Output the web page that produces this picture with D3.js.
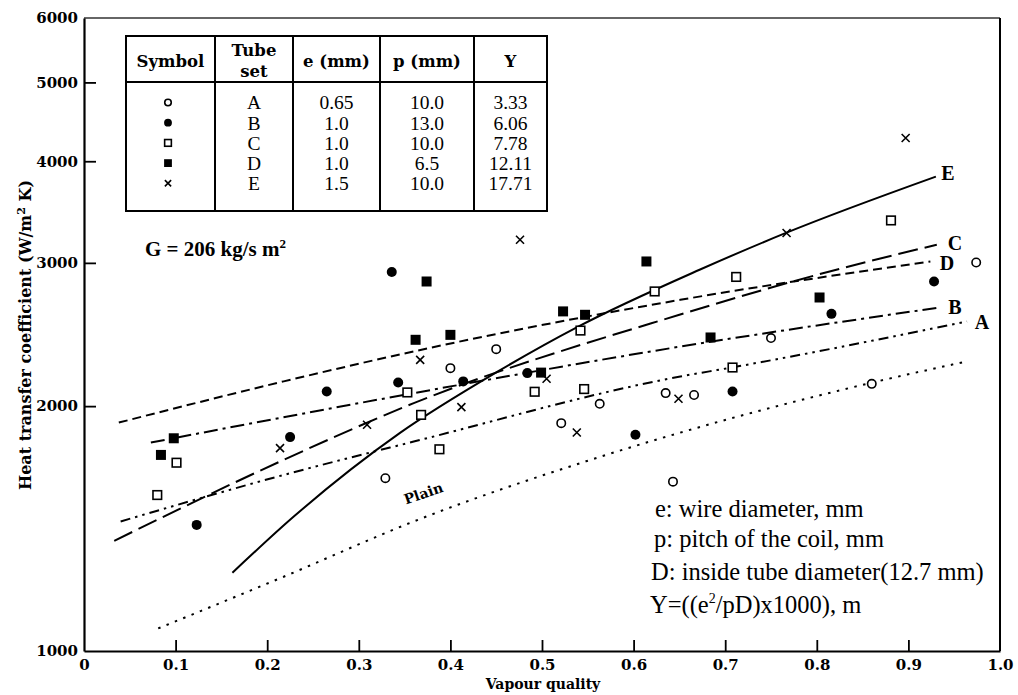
<!DOCTYPE html>
<html lang="en">
  <head>
    <meta charset="UTF-8" />
    <title>Heat transfer coefficient vs vapour quality</title>
    <script src="https://d3js.org/d3.v7.min.js"></script>
    <style>
      body {
        margin: 0;
        background-color: #fff;
      }
      svg text {
        fill: #000;
      }
      .serif {
        font-family: "Liberation Serif", "Times New Roman", serif;
      }
      .bold {
        font-family: "DejaVu Serif", serif;
        font-weight: bold;
      }
    </style>
  </head>
  <body>
    <svg id="chart" width="1018" height="695"></svg>
    <script>
      // tube sets A..E
      const setA = [
        [0.329, 1631], [0.4, 2227], [0.45, 2350], [0.521, 1906], [0.563, 2013],
        [0.635, 2075], [0.643, 1615], [0.666, 2064], [0.75, 2425], [0.86, 2130],
        [0.974, 3003]
      ];
      const setB = [
        [0.123, 1429], [0.225, 1832], [0.265, 2084], [0.336, 2923], [0.343, 2138],
        [0.414, 2145], [0.484, 2196], [0.602, 1844], [0.708, 2084], [0.816, 2597],
        [0.928, 2846]
      ];
      const setC = [
        [0.08, 1555], [0.101, 1704], [0.353, 2079], [0.368, 1951], [0.388, 1770],
        [0.492, 2083], [0.542, 2477], [0.546, 2099], [0.623, 2767], [0.708, 2231],
        [0.712, 2883], [0.881, 3383]
      ];
      const setD = [
        [0.084, 1742], [0.098, 1826], [0.362, 2413], [0.374, 2846], [0.4, 2447],
        [0.499, 2199], [0.523, 2615], [0.547, 2590], [0.614, 3012], [0.684, 2429],
        [0.803, 2720]
      ];
      const setE = [
        [0.214, 1776], [0.309, 1897], [0.367, 2280], [0.412, 1994], [0.476, 3203],
        [0.505, 2161], [0.538, 1856], [0.649, 2042], [0.767, 3265], [0.897, 4272]
      ];

      // fitted curves
      const curveE = [[0.162, 1248], [0.229, 1463], [0.345, 1854], [0.45, 2200], [0.539, 2503], [0.672, 2942], [0.767, 3268], [0.93, 3830]];
      const curveC = [[0.033, 1366], [0.218, 1718], [0.36, 2017], [0.65, 2590], [0.814, 2928], [0.931, 3158]];
      const curveD = [[0.038, 1909], [0.218, 2145], [0.378, 2359], [0.651, 2702], [0.924, 3012]];
      const curveB = [[0.073, 1804], [0.36, 2075], [0.651, 2367], [0.932, 2642]];
      const curveA = [[0.04, 1443], [0.218, 1646], [0.36, 1809], [0.651, 2175], [0.705, 2229], [0.964, 2541]];
      const curvePlain = [[0.081, 1066], [0.218, 1234], [0.36, 1443], [0.563, 1732], [0.86, 2137], [0.964, 2270]];

      const xTicks = [0, 0.1, 0.2, 0.3, 0.4, 0.5, 0.6, 0.7, 0.8, 0.9, 1.0];
      const yTicks = [1000, 2000, 3000, 4000, 5000, 6000];

      const tableHead = ["Symbol", "Tube set", "e (mm)", "p (mm)", "Y"];
      const tubeSets = ["A", "B", "C", "D", "E"];
      const eValues = ["0.65", "1.0", "1.0", "1.0", "1.5"];
      const pValues = ["10.0", "13.0", "10.0", "6.5", "10.0"];
      const yValues = ["3.33", "6.06", "7.78", "12.11", "17.71"];

      const svg = d3.select("#chart");
      const x = d3.scaleLinear().domain([0, 1]).range([84, 1000]);
      const y = d3.scaleLog().domain([1000, 6000]).range([651, 18]);

      // frame
      svg.append("line").attr("x1", 84).attr("x2", 1000).attr("y1", 18).attr("y2", 18)
        .attr("stroke", "#333").attr("stroke-width", 1.6);
      svg.append("line").attr("x1", 1000).attr("x2", 1000).attr("y1", 18).attr("y2", 651)
        .attr("stroke", "#000").attr("stroke-width", 2);

      const xAxis = d3.axisBottom(x).tickValues(xTicks).tickSize(0).tickPadding(8)
        .tickFormat((d) => (d === 0 ? "0" : d3.format(".1f")(d)));
      const gx = svg.append("g").attr("transform", "translate(0,651)").call(xAxis);
      gx.select(".domain").attr("stroke-width", 2.2);
      gx.selectAll("text").attr("class", "bold").attr("font-size", 15).attr("font-family", null);
      gx.selectAll(".tick").filter((d) => d > 0 && d < 1).append("line")
        .attr("y1", 0).attr("y2", -11).attr("stroke", "#000").attr("stroke-width", 1.8);

      const yAxis = d3.axisLeft(y).tickValues(yTicks).tickSize(0).tickPadding(6)
        .tickFormat(d3.format("d"));
      const gy = svg.append("g").attr("transform", "translate(84,0)").call(yAxis);
      gy.select(".domain").attr("stroke-width", 2.2);
      gy.selectAll("text").attr("class", "bold").attr("font-size", 15).attr("font-family", null);
      gy.selectAll(".tick").filter((d) => d > 1000 && d < 6000).append("line")
        .attr("x1", 0).attr("x2", 12).attr("stroke", "#000").attr("stroke-width", 1.8);

      // axis titles
      svg.append("text").attr("class", "bold").attr("font-size", 14)
        .attr("x", 543).attr("y", 689).attr("text-anchor", "middle").text("Vapour quality");
      const yt = svg.append("text").attr("class", "bold").attr("font-size", 16)
        .attr("text-anchor", "middle")
        .attr("transform", "translate(31,335) rotate(-90)");
      yt.append("tspan").text("Heat transfer coefficient (W/m");
      yt.append("tspan").attr("font-size", 11).attr("dy", -6).text("2");
      yt.append("tspan").attr("dy", 6).text(" K)");

      // curves
      const line = d3.line().x((d) => x(d[0])).y((d) => y(d[1])).curve(d3.curveMonotoneX);
      const curves = [
        { data: curveE, dash: null },
        { data: curveC, dash: "20 7" },
        { data: curveD, dash: "9 5" },
        { data: curveB, dash: "14 5 3 5" },
        { data: curveA, dash: "10 5 2.5 5 2.5 5" },
        { data: curvePlain, dash: "2.5 6.5" }
      ];
      svg.selectAll(".curve").data(curves).enter().append("path")
        .attr("class", "curve")
        .attr("d", (d) => line(d.data))
        .attr("fill", "none")
        .attr("stroke", "#000")
        .attr("stroke-width", 2)
        .attr("stroke-dasharray", (d) => d.dash);

      // curve labels
      const curveLabels = [["E", 948, 173], ["C", 955, 243], ["D", 947, 263], ["B", 955, 307], ["A", 982, 322]];
      svg.selectAll(".clabel").data(curveLabels).enter().append("text")
        .attr("class", "serif clabel").attr("font-size", 20).attr("font-weight", "bold")
        .attr("x", (d) => d[1]).attr("y", (d) => d[2]).attr("dy", "0.35em")
        .attr("text-anchor", "middle").text((d) => d[0]);
      svg.append("text").attr("class", "bold").attr("font-size", 14)
        .attr("transform", "translate(425,498) rotate(-19)")
        .attr("text-anchor", "middle").text("Plain");

      // markers
      function drawMarker(g, type, s) {
        if (type === "A") {
          g.append("circle").attr("r", 4.2 * s).attr("fill", "#fff").attr("stroke", "#000").attr("stroke-width", 1.6);
        } else if (type === "B") {
          g.append("circle").attr("r", 5 * s).attr("fill", "#000");
        } else if (type === "C") {
          g.append("rect").attr("x", -4.3 * s).attr("y", -4.3 * s).attr("width", 8.6 * s).attr("height", 8.6 * s)
            .attr("fill", "#fff").attr("stroke", "#000").attr("stroke-width", 1.6);
        } else if (type === "D") {
          g.append("rect").attr("x", -5 * s).attr("y", -5 * s).attr("width", 10 * s).attr("height", 10 * s).attr("fill", "#000");
        } else {
          const r = 4 * s;
          g.append("path").attr("d", `M${-r},${-r}L${r},${r}M${-r},${r}L${r},${-r}`)
            .attr("stroke", "#000").attr("stroke-width", 1.6);
        }
      }

      const sets = { A: setA, B: setB, C: setC, D: setD, E: setE };
      Object.keys(sets).forEach((k) => {
        sets[k].forEach((p) => {
          const g = svg.append("g").attr("transform", `translate(${x(p[0])},${y(p[1])})`);
          drawMarker(g, k, 1);
        });
      });

      // legend table
      const colX = [126, 215, 293, 380, 474, 547];
      const tbl = svg.append("g");
      tbl.append("rect").attr("x", 126).attr("y", 36).attr("width", 421).attr("height", 175)
        .attr("fill", "#fff").attr("stroke", "#000").attr("stroke-width", 2);
      tbl.append("line").attr("x1", 126).attr("x2", 547).attr("y1", 82).attr("y2", 82)
        .attr("stroke", "#000").attr("stroke-width", 2);
      colX.slice(1, 5).forEach((cx) => {
        tbl.append("line").attr("x1", cx).attr("x2", cx).attr("y1", 36).attr("y2", 211)
          .attr("stroke", "#000").attr("stroke-width", 2);
      });
      const mid = (i) => (colX[i] + colX[i + 1]) / 2;
      tableHead.forEach((h, i) => {
        const t = tbl.append("text").attr("class", "bold").attr("font-size", 16.5)
          .attr("x", mid(i)).attr("text-anchor", "middle");
        if (h === "Tube set") {
          t.append("tspan").attr("x", mid(i)).attr("y", 56).text("Tube");
          t.append("tspan").attr("x", mid(i)).attr("y", 77).text("set");
        } else {
          t.attr("y", 67).text(h);
        }
      });
      const rowY = (i) => 102.5 + i * 20.2;
      tubeSets.forEach((s, i) => {
        const g = tbl.append("g").attr("transform", `translate(168,${rowY(i)})`);
        drawMarker(g, s, 0.78);
        [tubeSets[i], eValues[i], pValues[i], yValues[i]].forEach((v, j) => {
          tbl.append("text").attr("class", "serif").attr("font-size", 19.5)
            .attr("x", mid(j + 1)).attr("y", rowY(i)).attr("dy", "0.35em")
            .attr("text-anchor", "middle").text(v);
        });
      });

      // annotations
      const gt = svg.append("text").attr("class", "serif").attr("font-size", 21).attr("font-weight", "bold")
        .attr("x", 145).attr("y", 256);
      gt.append("tspan").text("G = 206 kg/s m");
      gt.append("tspan").attr("font-size", 13).attr("dy", -8).text("2");

      const notes = [
        ["e: wire diameter, mm", 655, 517],
        ["p: pitch of the coil, mm", 654, 547],
        ["D: inside tube diameter(12.7 mm)", 651, 580]
      ];
      notes.forEach((n) => {
        svg.append("text").attr("class", "serif").attr("font-size", 24.5)
          .attr("x", n[1]).attr("y", n[2]).text(n[0]);
      });
      const yn = svg.append("text").attr("class", "serif").attr("font-size", 24.5).attr("x", 650).attr("y", 613);
      yn.append("tspan").text("Y=((e");
      yn.append("tspan").attr("font-size", 14).attr("dy", -10).text("2");
      yn.append("tspan").attr("dy", 10).text("/pD)x1000), m");
    </script>
  </body>
</html>
